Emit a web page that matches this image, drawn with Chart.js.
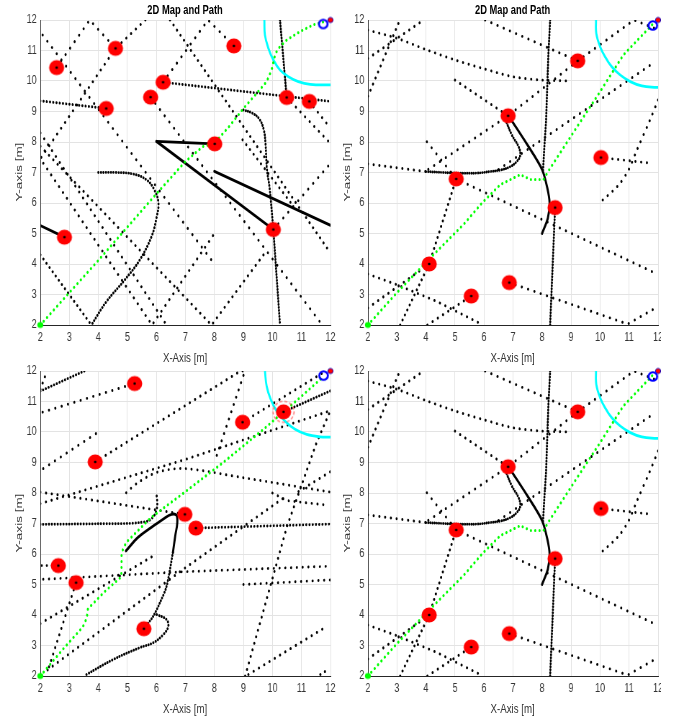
<!DOCTYPE html>
<html>
<head>
<meta charset="utf-8">
<script src="https://cdn.jsdelivr.net/npm/chart.js@4.4.1/dist/chart.umd.min.js"></script>
<style>
  html, body { margin: 0; padding: 0; background: #fff; }
  body { width: 673px; height: 719px; position: relative; overflow: hidden; }
  /* the reference figure is squeezed sideways, so everything is laid out wide and scaled */
  #wrap { position: absolute; left: 0; top: 0; width: 935px; height: 719px; transform: scaleX(0.72); transform-origin: 0 0; }
  .panel { position: absolute; width: 479px; height: 339px; }
  .lbl { position: absolute; color: #333; font: 13.5px "Liberation Sans", Arial, sans-serif; white-space: nowrap; transform: translate(-50%, -50%); }
  .ttl { font-weight: bold; font-size: 13px; color: #000; }
  .ylbl { transform: translate(-50%, -50%) rotate(-90deg); }
  #crop { position: absolute; left: 661px; top: 0; width: 12px; height: 719px; background: #fff; z-index: 5; }
</style>
</head>
<body>
<div id="wrap">
  <div class="panel" style="left:0;top:10px"><canvas id="c1" width="479" height="339"></canvas></div>
  <div class="panel" style="left:455px;top:10px"><canvas id="c2" width="479" height="339"></canvas></div>
  <div class="panel" style="left:0;top:361px"><canvas id="c3" width="479" height="339"></canvas></div>
  <div class="panel" style="left:455px;top:361px"><canvas id="c4" width="479" height="339"></canvas></div>

  <div class="lbl ttl" style="left:257px;top:9px">2D Map and Path</div>
  <div class="lbl ttl" style="left:712px;top:9px">2D Map and Path</div>
  <div class="lbl" style="left:257px;top:357px">X-Axis [m]</div>
  <div class="lbl" style="left:712px;top:357px">X-Axis [m]</div>
  <div class="lbl" style="left:257px;top:708px">X-Axis [m]</div>
  <div class="lbl" style="left:712px;top:708px">X-Axis [m]</div>
  <div class="lbl ylbl" style="left:26px;top:172px">Y-axis [m]</div>
  <div class="lbl ylbl" style="left:481px;top:172px">Y-axis [m]</div>
  <div class="lbl ylbl" style="left:26px;top:523px">Y-axis [m]</div>
  <div class="lbl ylbl" style="left:481px;top:523px">Y-axis [m]</div>
</div>
<div id="crop"></div>

<script>
const squeeze = 0.72;

// axis range (ticks every metre)
const axisMin = 2, axisMax = 12, tickStep = 1;

// ---------- top left map ----------
const tlObstacles = [[2.56,10.44],[4.59,11.07],[4.27,9.10],[6.23,9.96],[5.80,9.47],[2.83,4.88],
                     [8.67,11.15],[10.49,9.46],[11.27,9.33],[8.01,7.94],[10.03,5.13]];
const tlSolid1 = [[6.0,8.02],[8.01,7.94]];
const tlSolid2 = [[6.0,8.02],[10.03,5.13]];
const tlSolid3 = [[8.0,7.04],[12,5.27]];
const tlSolid4 = [[2.0,5.26],[2.83,4.88]];
const tlD1 = [[2.56,10.44],[3.7,12],[4.59,11.07]];
const tlQ1 = [[2.0,8.3],[6.35,2.0]];
const tlQ2 = [[2.0,7.86],[7.9,2.0],[9.8,4.44]];
const tlQ3 = [[5.62,12.0],[4.59,11.07],[2.0,7.45],[5.85,2.0],[8.0,5.0]];
const tlLineA = [[2.08,11.51],[8.0,4.0]];
const tlD4 = [[2.0,9.35],[4.27,9.10]];
const tlL2 = [[2.0,4.3],[3.76,2.0]];
const tlR1 = [[10.26,12],[10.49,9.46]];
const tlR2 = [[6.23,9.96],[12,9.33]];
const tlR3 = [[11.27,9.33],[12,8.45]];
const tlR4 = [[10.49,9.46],[11.95,8.0]];
const tlR5 = [[6.23,9.96],[7.78,12],[8.67,11.15]];
const tlR6 = [[6.47,12],[12,4.36]];
const tlR6b = [[8.97,8.07],[10.72,5.9]];
const tlR7 = [[9.0,9.05],[9.3,8.95],[9.55,8.75],[9.7,8.4],[9.76,7.95],[9.81,7.1],[9.9,6.5],[10.03,5.13]];
const tlR8 = [[10.03,5.13],[10.26,2.0]];
const tlR9 = [[10.03,5.13],[12,7.3]];
const tlR10 = [[5.8,9.47],[11.64,2.1]];
const tlCurve = [[4.0,7.0],[4.6,7.0],[5.2,6.95],[5.66,6.76],[5.93,6.43],[6.07,6.0],[6.0,5.5],
                 [5.84,4.92],[5.43,4.14],[4.91,3.48],[4.28,2.77],[3.76,2.0]];
const tlPath = [[2,2],[4,4.12],[6,6.3],[7,7.36],[7.6,7.85],[8.0,7.96],[8.5,8.5],[9.0,9.1],[9.46,9.6],
                [9.8,9.98],[9.97,10.36],[10.1,10.9],[10.26,11.13],[10.5,11.35],[10.95,11.62],[11.4,11.84],[11.76,11.94]];
const tlArc = [[9.72,12],[9.74,11.51],[9.86,11.07],[10.03,10.69],[10.26,10.36],[10.55,10.14],[10.89,9.98],[11.3,9.89],[12,9.87]];
const tlGoal = [[11.75,11.87]];

// ---------- right maps (top and bottom are the same) ----------
const trObstacles = [[9.23,10.66],[6.83,8.86],[10.03,7.49],[5.04,6.79],[8.45,5.85],[4.11,4.0],[6.87,3.39],[5.56,2.95]];
const trSolid = [[6.85,8.85],[7.5,7.9],[8.0,7.1],[8.18,6.5],[8.26,6.0],[8.2,5.5],[8.0,5.0]];
const trCurve = [[4.0,7.03],[4.6,7.0],[5.07,6.98],[5.75,6.98],[6.2,7.03],[6.56,7.08],[6.9,7.19],[7.13,7.36],
                 [7.25,7.57],[7.19,7.85],[6.96,8.23],[6.75,8.7]];
const trT1 = [[2.0,11.67],[3.0,11.4],[4.0,11.03],[5.0,10.69],[6.0,10.4],[7.0,10.14],[8.0,10.03],[8.97,10.0]];
const trT2 = [[2.0,9.5],[3.1,12.0]];
const trT3 = [[2.0,10.74],[3.92,12.0]];
const trT4 = [[6.04,12.0],[9.23,10.66]];
const trT5 = [[9.23,10.66],[11.17,12.0],[11.95,11.7]];
const trT6 = [[9.23,10.66],[6.83,8.86],[4.0,7.05]];
const trT7 = [[6.5,7.1],[11.9,10.63]];
const trT8 = [[5.0,10.03],[6.83,8.86]];
const trU1 = [[2.0,3.67],[3.0,3.32],[4.38,2.77],[5.87,2.05]];
const trU2 = [[2.0,2.56],[4.11,4.0]];
const trU3 = [[3.11,2.0],[4.11,4.0],[5.04,6.79]];
const trU3b = [[4.03,8.01],[5.04,6.79],[11.84,3.73]];
const trU4 = [[4.05,2.0],[5.56,2.95]];
const trU5 = [[6.87,3.39],[10.95,2.03],[11.9,2.55]];
const trU6 = [[8.28,12.0],[8.22,10.9],[8.18,9.8],[8.14,8.7],[8.08,7.83],[8.03,7.0]];
const trU6b = [[8.45,5.85],[8.28,2.0]];
const trU7 = [[10.03,7.49],[11.8,7.3]];
const trU8 = [[12,9.38],[11.72,8.72],[11.27,7.74],[10.98,7.08],[10.63,6.58],[9.98,6.0]];
const trU9 = [[2.0,7.28],[4.0,7.03]];
const trPath = [[2,2],[3,3.06],[4.15,4.2],[5.3,5.3],[5.93,6.0],[6.56,6.6],[7.25,6.93],[7.6,6.77],[8.05,6.77],
                [8.22,7.05],[9.14,8.4],[10.0,9.65],[10.8,10.85],[11.84,11.89]];
const trArc = [[9.86,12],[9.87,11.56],[10.0,11.13],[10.17,10.8],[10.4,10.47],[10.69,10.2],[11.04,9.98],[11.44,9.84],[11.95,9.79],[12,9.79]];
const trGoal = [[11.82,11.82]];

// ---------- bottom left map ----------
const blObstacles = [[5.25,11.59],[3.89,9.02],[6.98,7.3],[2.62,5.62],[3.23,5.06],[5.57,3.55],[8.97,10.32],[10.38,10.66],[7.36,6.85]];
const blMarked = [[10.38,10.66]];
const blSolid = [[4.95,6.1],[5.36,6.54],[5.82,6.87],[6.23,7.14],[6.52,7.3],[6.69,7.27],[6.72,7.03],[6.65,6.6],[6.57,6.05]];
const blSolidLow = [[6.57,6.05],[6.35,4.94],[6.12,4.4],[5.89,3.96],[5.57,3.55]];
const blHook = [[2.0,6.97],[3.0,6.98],[4.0,6.99],[5.0,7.0],[5.4,7.03],[5.75,7.1],[5.95,7.3],[6.03,7.6],[6.0,8.0]];
const blSCurve = [[3.59,2.05],[4.51,2.54],[5.43,2.93],[5.89,3.09],[6.24,3.36],[6.41,3.63],[6.35,3.85],[6.0,4.02]];
const blB1 = [[2.0,11.34],[3.52,12.0]];
const blB2 = [[2.0,11.4],[2.23,12.0]];
const blB3 = [[2.08,10.65],[5.25,11.59]];
const blB4 = [[2.1,8.8],[4.0,10.0]];
const blB5 = [[3.89,9.02],[8.9,12.0],[9.05,12.0],[8.0,9.0]];
const blB7 = [[8.97,10.32],[11.8,11.98]];
const blB8 = [[10.38,10.66],[12,11.35]];
const blB9 = [[2.0,7.65],[7.0,9.1],[12,10.7]];
const blB10 = [[2.0,8.03],[6.98,7.3]];
const blB11 = [[4.96,8.01],[5.36,8.34],[6.06,8.69],[6.98,8.8],[9.0,8.5],[12,8.03]];
const blB13 = [[9.17,2.05],[11.88,3.63]];
const blB14 = [[9.0,5.0],[12,5.15]];
const blB15 = [[2.1,5.17],[7.0,5.42],[12,5.6]];
const blB15b = [[2.05,5.62],[2.62,5.62]];
const blB16 = [[2.0,3.72],[6.0,6.0]];
const blB17 = [[2.25,2.2],[7.0,5.55],[10.4,7.85]];
const blB18 = [[2.3,2.3],[3.23,5.06]];
const blB22 = [[7.36,6.85],[12,6.98]];
const blB25 = [[9.06,2.0],[10.5,6.9],[11.5,9.6],[11.95,10.6]];
const blB26 = [[10.9,8.05],[12,8.7]];
const blB27 = [[10.0,8.0],[10.5,7.75],[11.9,7.6]];
const blB29 = [[11.65,2.05],[11.9,2.2]];
const blPath = [[2,2],[2.8,2.9],[3.46,3.6],[3.6,3.9],[3.64,4.2],[4.2,4.75],[4.79,5.25],[4.8,5.6],[4.8,6.05],
                [4.96,6.38],[5.82,7.2],[6.98,8.03],[8.3,9.0],[9.68,10.08],[11.0,11.17],[11.76,11.82]];
const blArc = [[9.74,12],[9.8,11.5],[9.94,11.07],[10.15,10.68],[10.43,10.36],[10.78,10.09],[11.18,9.92],[11.64,9.84],[12,9.83]];
const blGoal = [[11.76,11.85]];

const startPoint = [[2,2]];
const endPoint = [[12,12]];

const xy = pts => pts.map(([x, y]) => ({ x, y }));

// round marker images, pre-stretched so they come out round after the squeeze
function marker(r, paint) {
  const c = document.createElement('canvas');
  const h = Math.ceil(2 * r + 4), w = Math.ceil(h / squeeze);
  c.width = w; c.height = h;
  const g = c.getContext('2d');
  g.translate(w / 2, h / 2);
  g.scale(1 / squeeze, 1);
  paint(g);
  return c;
}
const obstacleImg = marker(7.6, g => {
  g.fillStyle = '#ff0000'; g.beginPath(); g.arc(0, 0, 7.6, 0, Math.PI * 2); g.fill();
  g.fillStyle = '#000'; g.beginPath(); g.arc(0, 0, 1.3, 0, Math.PI * 2); g.fill();
});
const goalImg = marker(5.5, g => {
  g.strokeStyle = '#0000ff'; g.lineWidth = 2; g.beginPath(); g.arc(0, 0, 4.3, 0, Math.PI * 2); g.stroke();
});
const endImg = marker(3.5, g => {
  g.fillStyle = '#ff0000'; g.strokeStyle = '#0000cc'; g.lineWidth = 0.8;
  g.beginPath(); g.arc(0, 0, 2.6, 0, Math.PI * 2); g.fill(); g.stroke();
});
const startImg = marker(3.5, g => {
  g.fillStyle = '#00ff00'; g.beginPath(); g.arc(0, 0, 3, 0, Math.PI * 2); g.fill();
});
const ringImg = marker(11.5, g => {
  g.strokeStyle = 'rgba(255,70,70,0.85)'; g.lineWidth = 1.1; g.setLineDash([3, 2]);
  g.beginPath(); g.arc(0, 0, 10.5, 0, Math.PI * 2); g.stroke();
});

function dotted(pts, gap, tension) {
  return {
    data: xy(pts), showLine: true, borderColor: '#000', borderWidth: 2.9,
    borderDash: [0.01, gap], borderCapStyle: 'round', borderJoinStyle: 'round',
    pointRadius: 0, tension: tension || 0, order: 10
  };
}
function solid(pts, tension) {
  return { data: xy(pts), showLine: true, borderColor: '#000', borderWidth: 2.9,
    borderCapStyle: 'round', pointRadius: 0, tension: tension || 0, order: 8 };
}
function greenPath(pts) {
  return { data: xy(pts), showLine: true, borderColor: '#00ff00', borderWidth: 3,
    borderDash: [0.01, 6], borderCapStyle: 'round', pointRadius: 0, order: 6 };
}
function cyanArc(pts) {
  return { data: xy(pts), showLine: true, borderColor: '#00ffff', borderWidth: 2.8,
    pointRadius: 0, tension: 0.4, order: 7 };
}
function pic(pts, img, order) {
  return { data: xy(pts), pointStyle: img, pointRadius: 5, order, clip: false };
}
function markers(obstacles, goal) {
  return [pic(obstacles, obstacleImg, 1), pic(goal, goalImg, 2), pic(endPoint, endImg, 2), pic(startPoint, startImg, 3)];
}

function axis(isX) {
  return {
    type: 'linear', min: axisMin, max: axisMax,
    ticks: { stepSize: tickStep, color: '#333', padding: 5, maxRotation: 0, autoSkip: false,
             font: { family: '"Liberation Sans", Arial, sans-serif', size: 12.5 } },
    grid: { color: '#e3e3e3', lineWidth: 1, drawTicks: false },
    border: { display: true, color: '#262626', width: 1 },
    afterFit: s => {
      if (isX) s.height = 24; else s.width = 56;
      s.paddingLeft = 0; s.paddingRight = 0; s.paddingTop = 0; s.paddingBottom = 0;
    }
  };
}

function draw(id, datasets) {
  new Chart(document.getElementById(id), {
    type: 'scatter',
    data: { datasets },
    options: {
      animation: false, responsive: false, events: [],
      layout: { padding: { left: 0, top: 10, right: 20, bottom: 0 } },
      plugins: { legend: { display: false }, tooltip: { enabled: false } },
      scales: { x: axis(true), y: axis(false) }
    }
  });
}

const tlSets = [
  dotted(tlD1, 9), dotted(tlQ1, 8), dotted(tlQ2, 7.5), dotted(tlQ3, 8), dotted(tlLineA, 9),
  dotted(tlD4, 4.5), dotted(tlL2, 6), dotted(tlR1, 3), dotted(tlR2, 4.5), dotted(tlR3, 8),
  dotted(tlR4, 8), dotted(tlR5, 9), dotted(tlR6, 7), dotted(tlR6b, 7), dotted(tlR7, 3.2, 0.4),
  dotted(tlR8, 3), dotted(tlR9, 9), dotted(tlR10, 9), dotted(tlCurve, 3.5, 0.4),
  solid(tlSolid1), solid(tlSolid2), solid(tlSolid3), solid(tlSolid4),
  cyanArc(tlArc), greenPath(tlPath), ...markers(tlObstacles, tlGoal)
];

function rightSets() {
  return [
    dotted(trT1, 8, 0.3), dotted(trT2, 7), dotted(trT3, 8), dotted(trT4, 9), dotted(trT5, 9),
    dotted(trT6, 9), dotted(trT7, 9), dotted(trT8, 8), dotted(trU1, 8), dotted(trU2, 8),
    dotted(trU3, 6), dotted(trU3b, 9), dotted(trU4, 8), dotted(trU5, 9), dotted(trU6, 3),
    dotted(trU6b, 3), dotted(trU7, 8), dotted(trU8, 8, 0.3), dotted(trU9, 8), dotted(trCurve, 3, 0.4),
    solid(trSolid, 0.3), cyanArc(trArc), greenPath(trPath), ...markers(trObstacles, trGoal)
  ];
}

const blSets = [
  dotted(blHook, 4, 0.3), dotted(blSCurve, 3.5, 0.4), dotted(blSolidLow, 3.2, 0.3),
  dotted(blB1, 4), dotted(blB2, 7), dotted(blB3, 9), dotted(blB4, 9), dotted(blB5, 8),
  dotted(blB7, 8), dotted(blB8, 4), dotted(blB9, 8), dotted(blB10, 8), dotted(blB11, 8, 0.3),
  dotted(blB13, 8), dotted(blB14, 8), dotted(blB15, 8), dotted(blB15b, 7), dotted(blB16, 8),
  dotted(blB17, 8), dotted(blB18, 7), dotted(blB22, 4.5), dotted(blB25, 7), dotted(blB26, 8),
  dotted(blB27, 8), dotted(blB29, 7),
  solid(blSolid, 0.4), cyanArc(blArc), greenPath(blPath),
  pic(blMarked, ringImg, 0),
  ...markers(blObstacles, blGoal)
];

draw('c1', tlSets);
draw('c2', rightSets());
draw('c3', blSets);
draw('c4', rightSets());
</script>
</body>
</html>
